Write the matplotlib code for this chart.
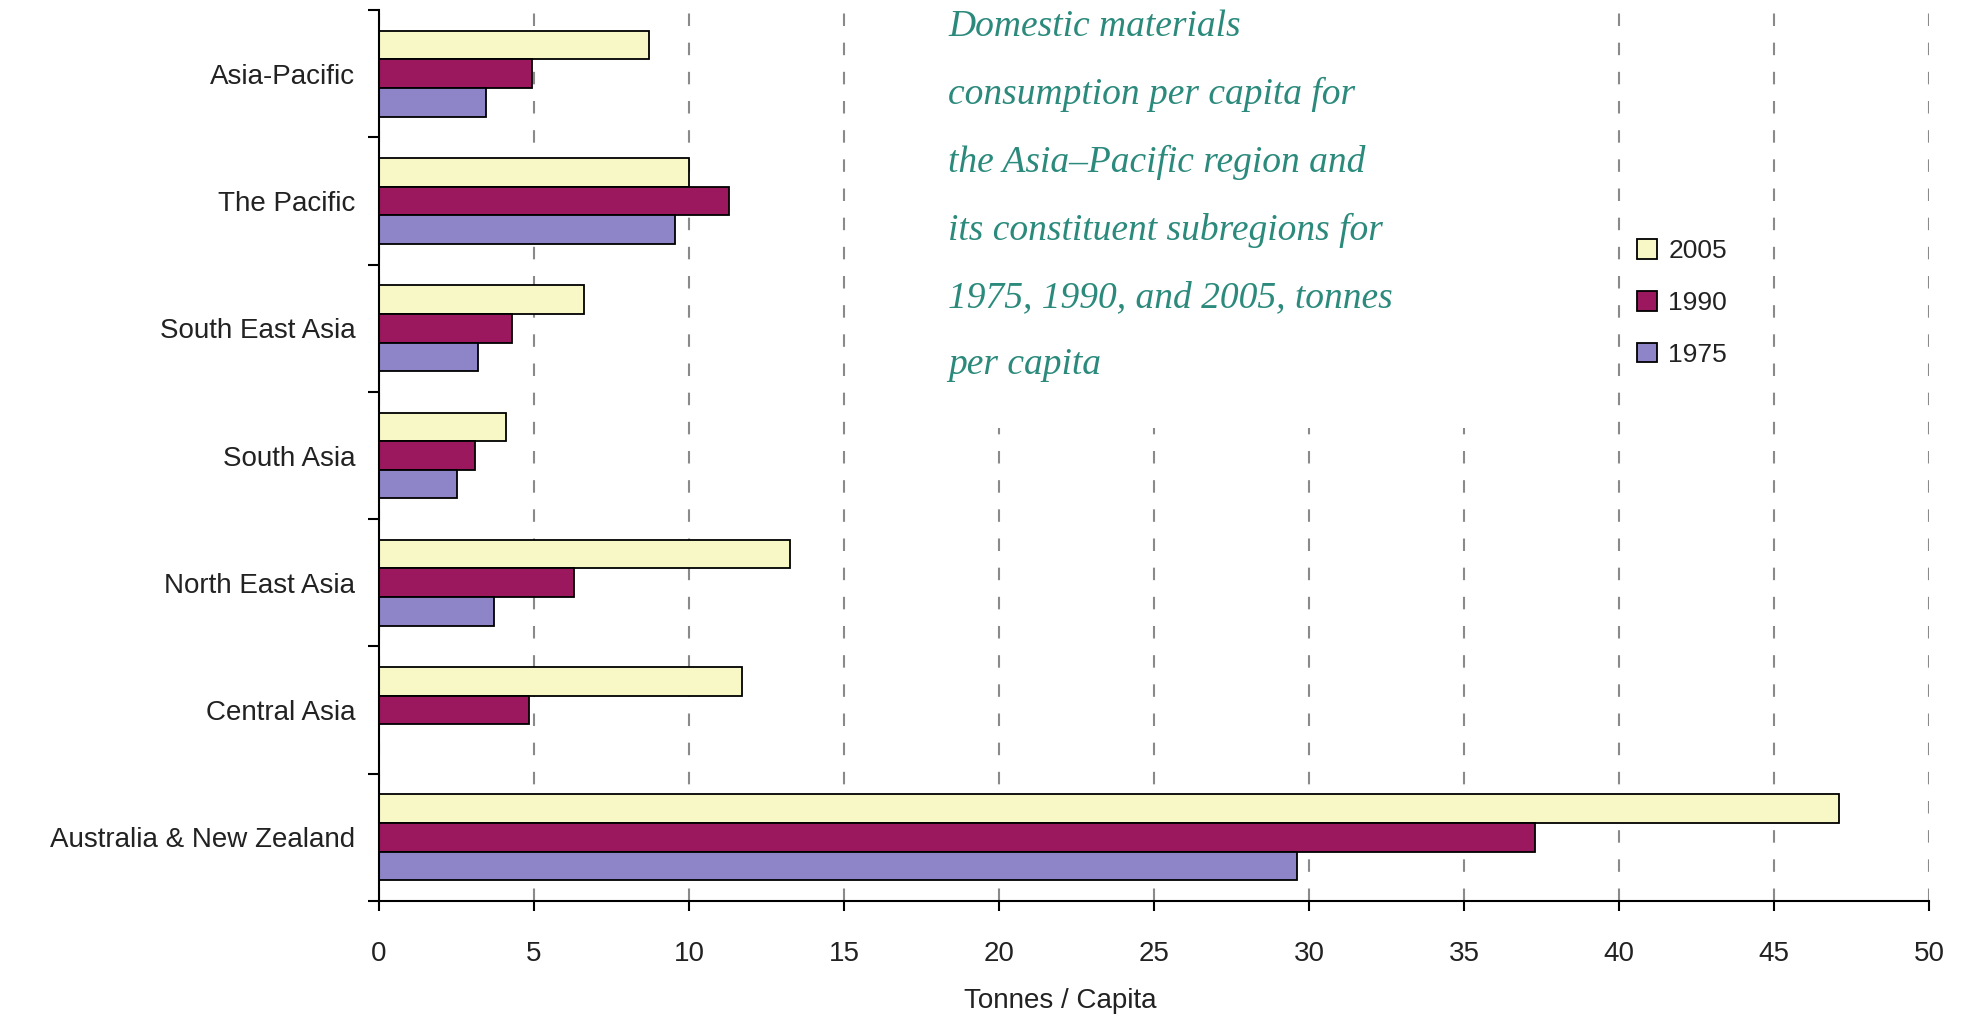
import numpy as np
import matplotlib
matplotlib.use("Agg")
import matplotlib.pyplot as plt
from matplotlib.patches import Rectangle

# Regions, top to bottom
regions = [
    "Asia-Pacific",
    "The Pacific",
    "South East Asia",
    "South Asia",
    "North East Asia",
    "Central Asia",
    "Australia & New Zealand",
]

# Tonnes per capita
dmc_2005 = [8.7, 10.0, 6.6, 4.1, 13.25, 11.7, 47.1]
dmc_1990 = [4.95, 11.3, 4.3, 3.1, 6.3, 4.85, 37.3]
dmc_1975 = [3.45, 9.55, 3.2, 2.5, 3.7, 0.0, 29.6]

years = ["2005", "1990", "1975"]
colors = ["#f8f8c6", "#9c185e", "#8e84c8"]

xticks = [0, 5, 10, 15, 20, 25, 30, 35, 40, 45, 50]

title = ("Domestic materials\n"
         "consumption per capita for\n"
         "the Asia\u2013Pacific region and\n"
         "its constituent subregions for\n"
         "1975, 1990, and 2005, tonnes\n"
         "per capita")

plt.rcParams["font.family"] = ["Liberation Sans", "DejaVu Sans"]

fig = plt.figure(figsize=(19.68, 10.16), dpi=100)
ax = fig.add_axes([379 / 1968, 1 - 901 / 1016, 1550 / 1968, 891 / 1016])

y = np.arange(len(regions))
h = 0.225
series = [dmc_2005, dmc_1990, dmc_1975]
bars = []
for i, (vals, lab, col) in enumerate(zip(series, years, colors)):
    b = ax.barh(y + (i - 1) * h, vals, height=h, color=col,
                edgecolor="black", linewidth=1.3, label=lab, zorder=2)
    bars.append(b)

ax.set_xlim(0, 50)
ax.set_ylim(len(regions) - 0.5, -0.5)
ax.set_xticks(xticks)
ax.set_yticks(y)
ax.set_yticklabels(regions)
ax.set_yticks(np.arange(-0.5, len(regions)), minor=True)

ax.tick_params(axis="y", which="major", length=0, pad=17,
               labelsize=20, labelcolor="#222222")
ax.tick_params(axis="y", which="minor", length=8, width=1.5, color="black")
ax.tick_params(axis="x", length=7, width=1.5, pad=22,
               labelsize=20, labelcolor="#222222")

for side in ["top", "right"]:
    ax.spines[side].set_visible(False)
for side in ["left", "bottom"]:
    ax.spines[side].set_linewidth(1.5)

ax.set_axisbelow(True)
ax.xaxis.grid(True, linestyle=(0, (6, 8)), linewidth=1.5, color="#8a8a8a")

ax.set_xlabel("Tonnes / Capita", fontsize=20, color="#222222")
ax.xaxis.set_label_coords((1060 - 379) / 1550, (901 - 988) / 891)

ax.legend(handles=bars, labels=years, loc="upper left",
          bbox_to_anchor=(1637 / 1968, 1 - 239 / 1016),
          bbox_transform=fig.transFigure, frameon=False,
          fontsize=19, handlelength=0.76, handleheight=0.76,
          handletextpad=0.42, labelspacing=1.06, borderpad=0,
          borderaxespad=0, labelcolor="#222222")

# white panel behind the caption hides the grid lines there
fig.add_artist(Rectangle((905 / 1968, 1 - 428 / 1016), 595 / 1968, 428 / 1016,
                         transform=fig.transFigure, facecolor="white",
                         edgecolor="none", zorder=1))

fig.text(948 / 1968, 1 - 9 / 1016, title, ha="left", va="top",
         fontsize=27, style="italic", family="Liberation Serif",
         color="#2b8a7c", linespacing=2.22, zorder=3)

fig.savefig("out.png", dpi=100)
